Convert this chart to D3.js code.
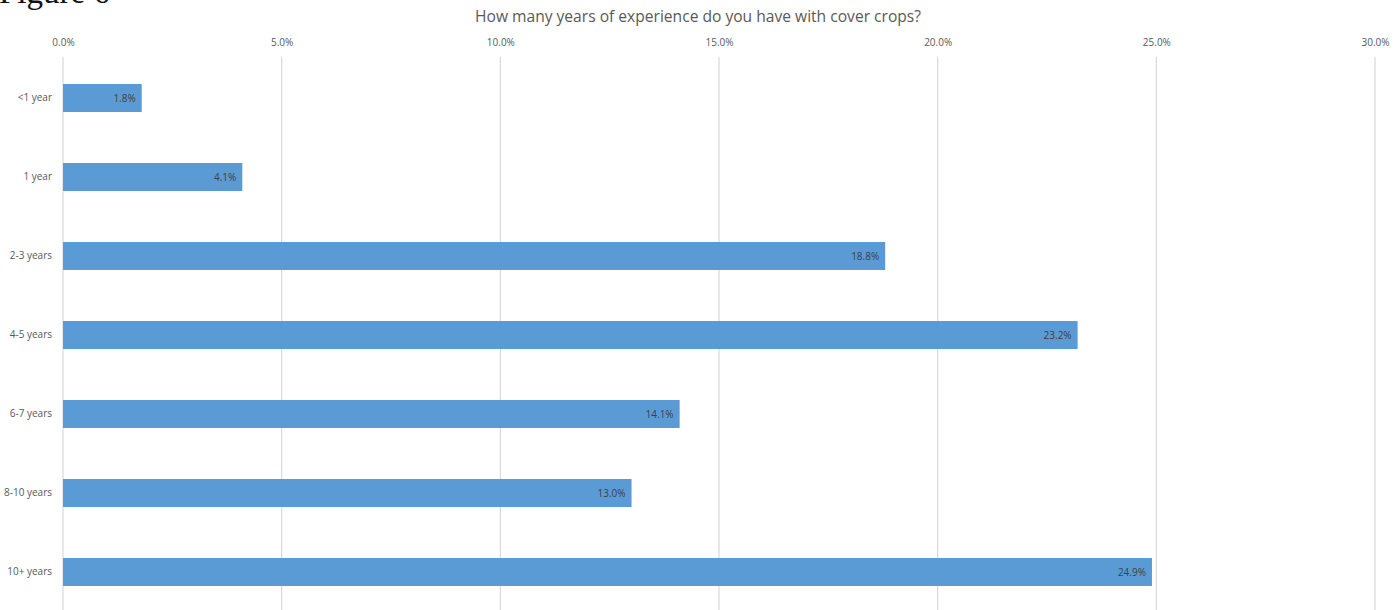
<!DOCTYPE html>
<html>
<head>
<meta charset="utf-8">
<script src="https://cdn.jsdelivr.net/npm/d3@7"></script>
<style>
  html, body { margin: 0; padding: 0; background: #fff; }
  svg { display: block; }
</style>
</head>
<body>
<svg id="chart" width="1397" height="610"></svg>
<script>
const categories = ["<1 year", "1 year", "2-3 years", "4-5 years", "6-7 years", "8-10 years", "10+ years"];
const values = [1.8, 4.1, 18.8, 23.2, 14.1, 13.0, 24.9];
const tickValues = [0, 5, 10, 15, 20, 25, 30];
const title = "How many years of experience do you have with cover crops?";
const figureLabel = "Figure 6";

const svg = d3.select("#chart");
const W = 1397, H = 610;

const x = d3.scaleLinear().domain([0, 30]).range([63, 1375]);
const y = d3.scaleBand().domain(categories).range([58.5, 611.5])
  .paddingInner(0.646).paddingOuter(0.323);

// Figure label (partially cut off at top, as in the source figure)
svg.append("text")
  .attr("x", -1).attr("y", 3)
  .attr("font-family", "Liberation Serif, Times New Roman, serif")
  .attr("font-size", 33)
  .attr("fill", "#111")
  .text(figureLabel);

// Title
svg.append("text")
  .attr("x", 698).attr("y", 22)
  .attr("text-anchor", "middle")
  .attr("font-family", "Open Sans, Liberation Sans, sans-serif")
  .attr("font-size", 15.6)
  .attr("fill", "#595959")
  .text(title);

// Gridlines
svg.append("g").selectAll("line").data(tickValues).join("line")
  .attr("x1", d => x(d)).attr("x2", d => x(d))
  .attr("y1", 57).attr("y2", H)
  .attr("stroke", "#d9d9d9").attr("stroke-width", 1.2);

// Top axis labels
const axis = d3.axisTop(x).tickValues(tickValues).tickFormat(d => d.toFixed(1) + "%").tickSize(0);
const ag = svg.append("g").attr("transform", "translate(0,49)").call(axis);
ag.select(".domain").remove();
ag.selectAll("text")
  .attr("font-family", "Open Sans, Liberation Sans, sans-serif")
  .attr("font-size", 10)
  .attr("fill", "#595959");

// Bars
svg.append("g").selectAll("rect").data(values).join("rect")
  .attr("x", x(0))
  .attr("y", (d, i) => y(categories[i]))
  .attr("width", d => x(d) - x(0))
  .attr("height", y.bandwidth())
  .attr("fill", "#5B9BD5");

// Value labels
svg.append("g").selectAll("text").data(values).join("text")
  .attr("x", d => x(d) - 6)
  .attr("y", (d, i) => y(categories[i]) + y.bandwidth() / 2)
  .attr("dy", "0.35em")
  .attr("text-anchor", "end")
  .attr("font-family", "Open Sans, Liberation Sans, sans-serif")
  .attr("font-size", 10)
  .attr("fill", "#404040")
  .text(d => d.toFixed(1) + "%");

// Category labels
const yAxis = d3.axisLeft(y).tickSize(0).tickPadding(0);
const yg = svg.append("g").attr("transform", "translate(52,0)").call(yAxis);
yg.select(".domain").remove();
yg.selectAll("text")
  .attr("font-family", "Open Sans, Liberation Sans, sans-serif")
  .attr("font-size", 10)
  .attr("fill", "#595959");
</script>
</body>
</html>
